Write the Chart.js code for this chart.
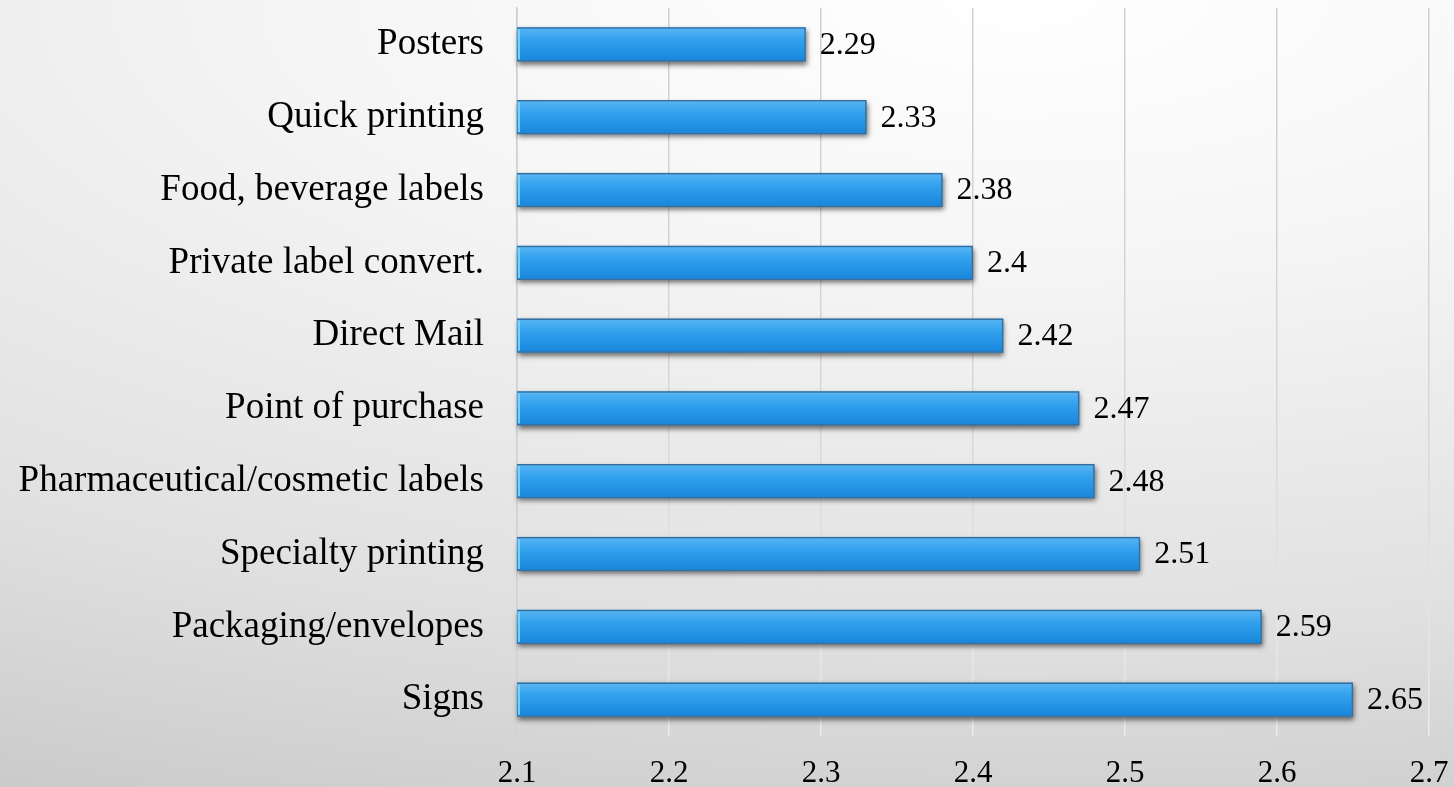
<!DOCTYPE html>
<html>
<head>
<meta charset="utf-8">
<script src="https://cdn.jsdelivr.net/npm/chart.js@4"></script>
<style>
  html, body { margin: 0; padding: 0; }
  body {
    width: 1454px;
    height: 787px;
    overflow: hidden;
    background: radial-gradient(ellipse 165% 115% at 70% 0%, #ffffff 0%, #f5f5f5 30%, #e0e0e0 70%, #c8c8c8 100%);
  }
  #wrap { position: relative; width: 1454px; height: 787px; }
</style>
</head>
<body>
<div id="wrap"><canvas id="myChart"></canvas></div>
<script>
const categories = [
  'Posters',
  'Quick printing',
  'Food, beverage labels',
  'Private label convert.',
  'Direct Mail',
  'Point of purchase',
  'Pharmaceutical/cosmetic labels',
  'Specialty printing',
  'Packaging/envelopes',
  'Signs'
];
const scores = [2.29, 2.33, 2.38, 2.4, 2.42, 2.47, 2.48, 2.51, 2.59, 2.65];
const tickLabels = ['2.1', '2.2', '2.3', '2.4', '2.5', '2.6', '2.7'];

const serif = "'Liberation Serif', 'Times New Roman', serif";
const BAR_PCT = 0.47;

// bar elements clip their own shadow, so paint a shadowed block underneath each bar first
const barShadow = {
  id: 'barShadow',
  beforeDatasetsDraw(chart) {
    const ctx = chart.ctx;
    const left = chart.chartArea.left;
    const meta = chart.getDatasetMeta(0);
    ctx.save();
    ctx.shadowColor = 'rgba(0, 0, 0, 0.55)';
    ctx.shadowBlur = 5;
    ctx.shadowOffsetX = 1;
    ctx.shadowOffsetY = 3;
    ctx.fillStyle = '#2a8fd8';
    meta.data.forEach((bar) => {
      const h = bar.height;
      ctx.fillRect(left, bar.y - h / 2, bar.x - left, h);
    });
    ctx.restore();
  },
  afterDatasetsDraw(chart) {
    // thin light edge on the left end of each bar
    const ctx = chart.ctx;
    const left = chart.chartArea.left;
    const meta = chart.getDatasetMeta(0);
    ctx.save();
    ctx.strokeStyle = 'rgba(120, 215, 255, 0.9)';
    ctx.lineWidth = 2;
    meta.data.forEach((bar) => {
      const h = bar.height;
      ctx.beginPath();
      ctx.moveTo(left + 2, bar.y - h / 2 + 2);
      ctx.lineTo(left + 2, bar.y + h / 2 - 2);
      ctx.stroke();
    });
    ctx.restore();
  }
};

// value printed just past the end of each bar
const valueLabels = {
  id: 'valueLabels',
  afterDatasetsDraw(chart) {
    const ctx = chart.ctx;
    const meta = chart.getDatasetMeta(0);
    ctx.save();
    ctx.font = '32px ' + serif;
    ctx.fillStyle = '#000';
    ctx.textAlign = 'left';
    ctx.textBaseline = 'middle';
    meta.data.forEach((bar, i) => {
      ctx.fillText(String(scores[i]), bar.x + 14, bar.y + 1);
    });
    ctx.restore();
  }
};

const ctx = document.getElementById('myChart').getContext('2d');

new Chart(ctx, {
  type: 'bar',
  data: {
    labels: categories,
    datasets: [{
      data: scores,
      backgroundColor: (c) => {
        const chart = c.chart;
        const yScale = chart.scales.y;
        if (!chart.chartArea || !yScale || c.dataIndex === undefined) return '#2a9bea';
        const cy = yScale.getPixelForValue(c.dataIndex);
        const h = (chart.chartArea.height / categories.length) * BAR_PCT;
        const g = chart.ctx.createLinearGradient(0, cy - h / 2, 0, cy + h / 2);
        g.addColorStop(0, '#5ab6f4');
        g.addColorStop(0.4, '#30a0ed');
        g.addColorStop(1, '#1785da');
        return g;
      },
      borderColor: '#3a6e9a',
      borderWidth: 1.5,
      borderSkipped: false,
      barPercentage: BAR_PCT,
      categoryPercentage: 1
    }]
  },
  options: {
    indexAxis: 'y',
    responsive: true,
    maintainAspectRatio: false,
    animation: false,
    layout: { padding: { top: 8, right: 25, bottom: 0, left: 0 } },
    plugins: {
      legend: { display: false },
      tooltip: { enabled: false }
    },
    scales: {
      x: {
        min: 2.1,
        max: 2.7,
        border: { display: false },
        grid: {
          drawTicks: false,
          lineWidth: 1.5,
          color: (c) => {
            const area = c.chart.chartArea;
            if (!area) return '#d0d0d0';
            const g = c.chart.ctx.createLinearGradient(0, area.top, 0, area.bottom);
            g.addColorStop(0, '#cfcfcf');
            g.addColorStop(0.6, '#d8d8d8');
            g.addColorStop(1, '#ececec');
            return g;
          }
        },
        afterFit: (scale) => {
          scale.height = 51;
          scale.paddingLeft = 0;
          scale.paddingRight = 0;
        },
        ticks: {
          stepSize: 0.1,
          padding: 19,
          color: '#000',
          font: { family: serif, size: 31 },
          callback: (value, index) => tickLabels[index]
        }
      },
      y: {
        border: { display: true, color: '#d0d0d0', width: 1.5 },
        grid: { display: false, drawTicks: false },
        afterFit: (scale) => {
          scale.width = 517;
          scale.paddingTop = 0;
          scale.paddingBottom = 0;
        },
        ticks: {
          padding: 33,
          color: '#000',
          font: { family: serif, size: 37 }
        }
      }
    }
  },
  plugins: [barShadow, valueLabels]
});
</script>
</body>
</html>
